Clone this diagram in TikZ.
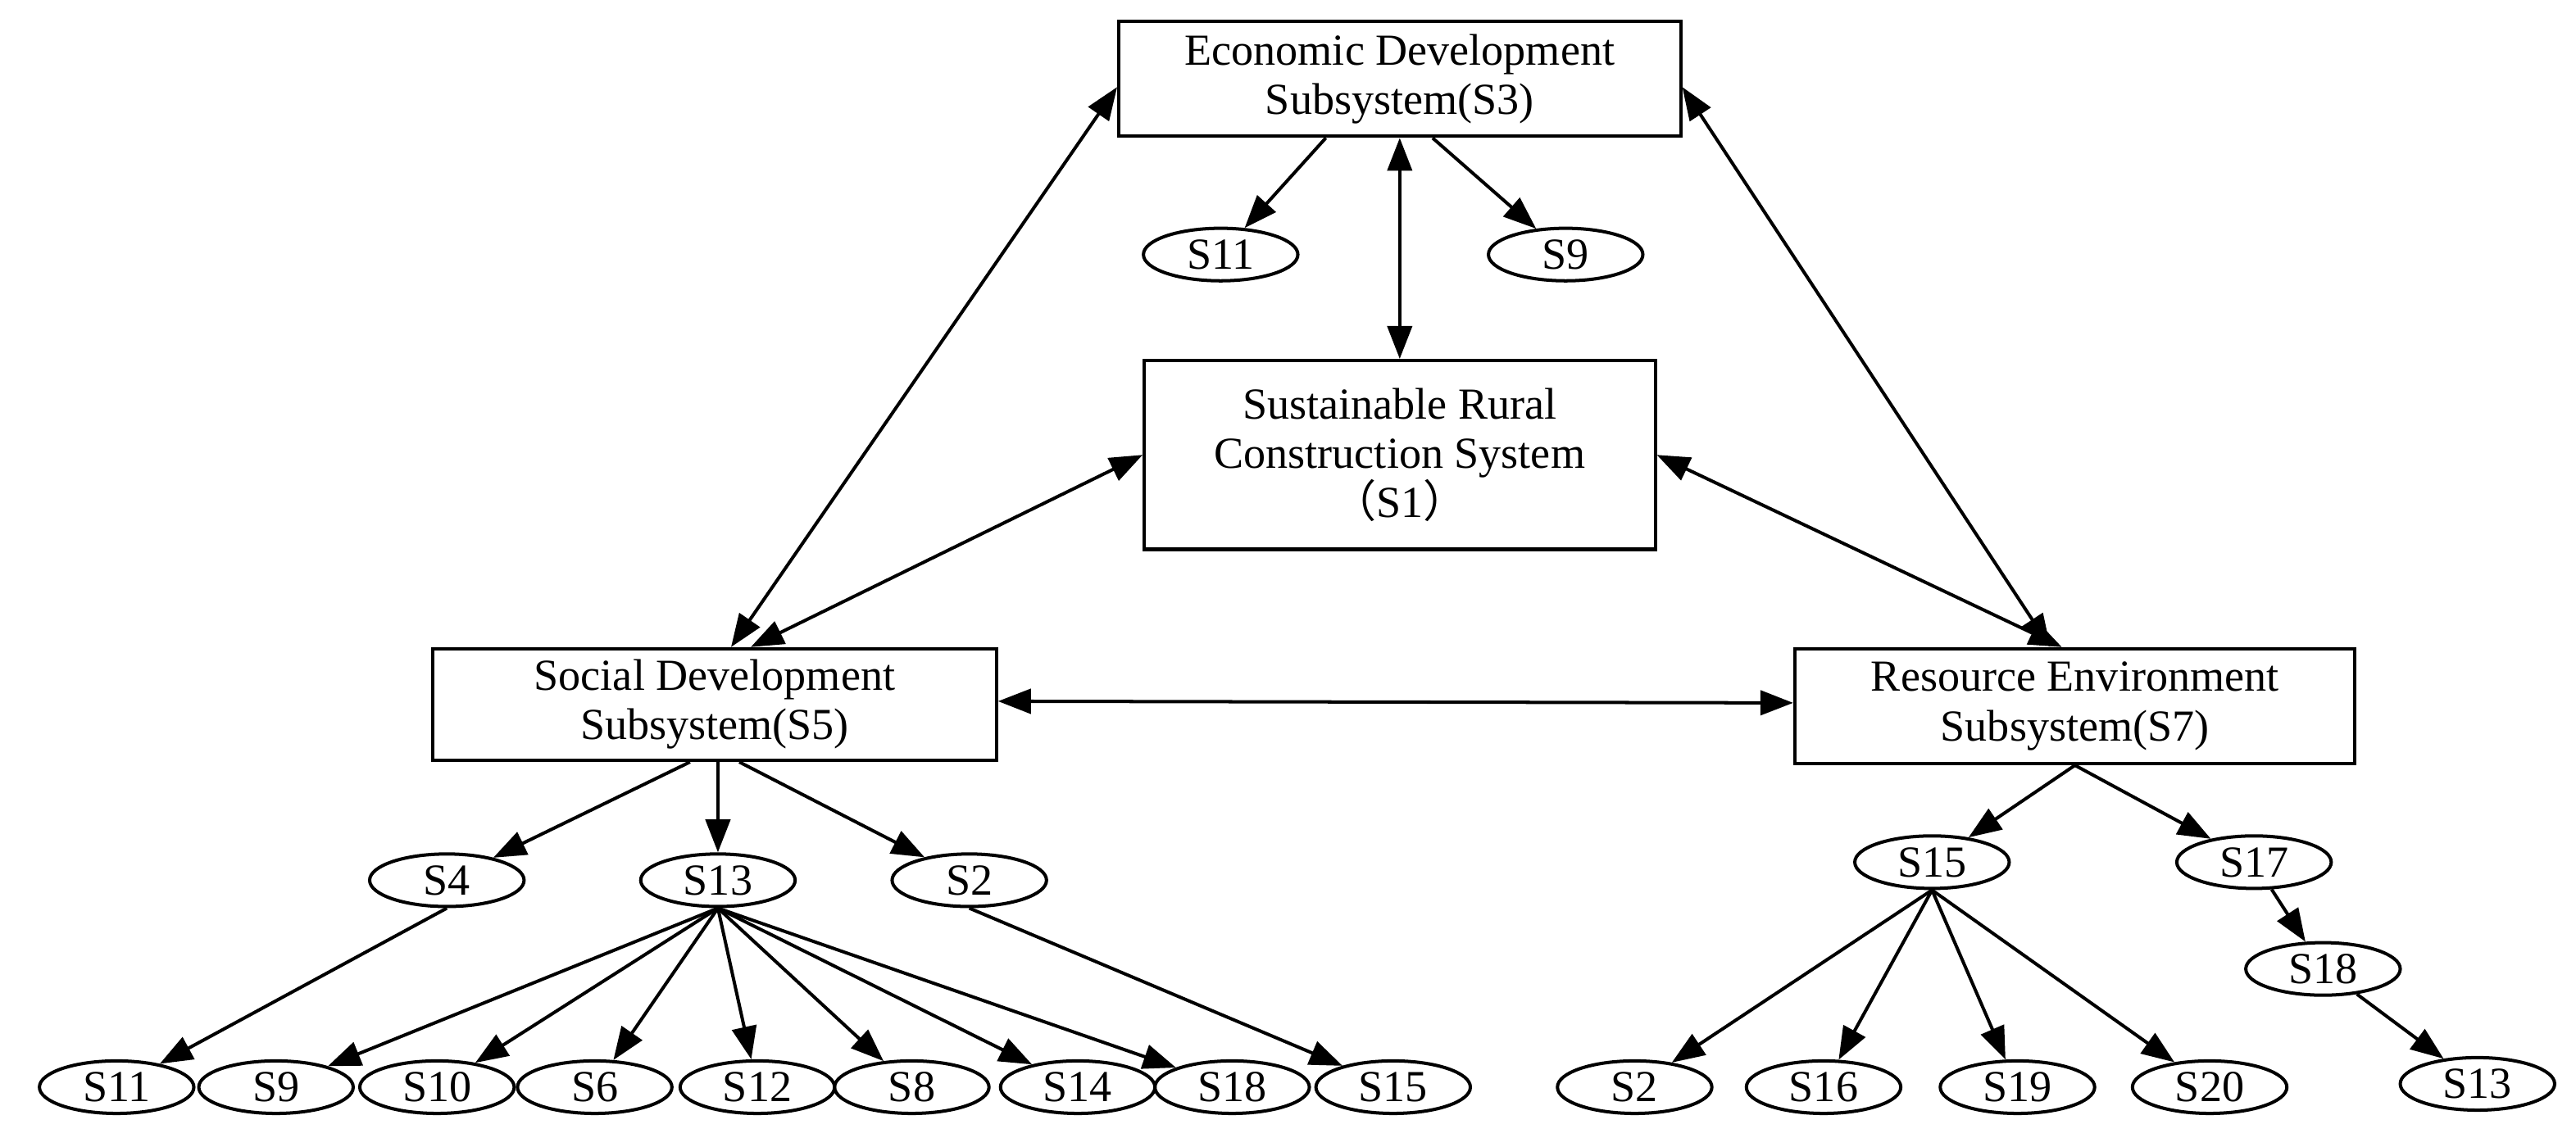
\documentclass[tikz,border=0pt]{standalone}
\usepackage{fontspec}
\setmainfont{Liberation Serif}
\newfontfamily\cjk{Noto Sans CJK SC}
\usetikzlibrary{arrows.meta,shapes.geometric}
\begin{document}
\begin{tikzpicture}[x=1pt,y=-1pt,font=\fontsize{27}{30}\selectfont,
 box/.style={draw,line width=2pt,align=center,inner sep=0pt},
 el/.style={draw,ellipse,line width=2pt,minimum width=94pt,minimum height=32pt,inner sep=0pt},
 ar/.style={line width=2pt,-{Triangle[length=20pt,width=15pt]}},
 ba/.style={line width=2pt,{Triangle[length=20pt,width=15pt]}-{Triangle[length=20pt,width=15pt]}}]
\useasboundingbox (0,0) rectangle (1568,698);
\node[box,minimum width=342pt,minimum height=70pt] (S3) at (852,48) {Economic Development\\Subsystem(S3)};
\node[box,minimum width=311pt,minimum height=115pt] (S1) at (852,277) {Sustainable Rural\\Construction System\\{\cjk （}S1{\cjk ）}};
\node[box,minimum width=343pt,minimum height=68pt] (S5) at (435,429) {Social Development\\Subsystem(S5)};
\node[box,minimum width=341pt,minimum height=70pt] (S7) at (1263,430) {Resource Environment\\Subsystem(S7)};
\node[el] (a11) at (743,155) {S11};
\node[el] (a9) at (953,155) {S9};
\node[el] (b4) at (272,536) {S4};
\node[el] (b13) at (437,536) {S13};
\node[el] (b2) at (590,536) {S2};
\node[el] (c11) at (71,662) {S11};
\node[el] (c9) at (168,662) {S9};
\node[el] (c10) at (266,662) {S10};
\node[el] (c6) at (362,662) {S6};
\node[el] (c12) at (461,662) {S12};
\node[el] (c8) at (555,662) {S8};
\node[el] (c14) at (656,662) {S14};
\node[el] (c18) at (750,662) {S18};
\node[el] (c15) at (848,662) {S15};
\node[el] (d15) at (1176,525) {S15};
\node[el] (d17) at (1372,525) {S17};
\node[el] (d18) at (1414,590) {S18};
\node[el] (d13) at (1508,660) {S13};
\node[el] (e2) at (995,662) {S2};
\node[el] (e16) at (1110,662) {S16};
\node[el] (e19) at (1228,662) {S19};
\node[el] (e20) at (1345,662) {S20};
\draw[ba] ([yshift=-5pt]S3.west) -- ([xshift=10pt]S5.north);
\draw[ba] ([yshift=-5pt]S3.east) -- ([xshift=-15pt]S7.north);
\draw[ba] (S1.west) -- ([xshift=22pt]S5.north);
\draw[ba] (S1.east) -- ([xshift=-8pt]S7.north);
\draw[ba] ([yshift=2pt]S5.east) -- ([yshift=2pt]S7.west);
\draw[ba] (S3.south) -- (S1.north);
\draw[ar] ([xshift=-45pt]S3.south) -- (a11);
\draw[ar] ([xshift=20pt]S3.south) -- (a9);
\draw[ar] ([xshift=-15pt]S5.south) -- (b4);
\draw[ar] ([xshift=2pt]S5.south) -- (b13);
\draw[ar] ([xshift=15pt]S5.south) -- (b2);
\draw[ar] (b4.south) -- (c11);
\draw[ar] (b2.south) -- (c15);
\foreach \t in {c9,c10,c6,c12,c8,c14,c18} \draw[ar] (b13.south) -- (\t);
\draw[ar] (S7.south) -- (d15);
\draw[ar] (S7.south) -- (d17);
\foreach \t in {e2,e16,e19,e20} \draw[ar] (d15.south) -- (\t);
\draw[ar] (d17) -- (d18);
\draw[ar] (d18) -- (d13);
\end{tikzpicture}
\end{document}
